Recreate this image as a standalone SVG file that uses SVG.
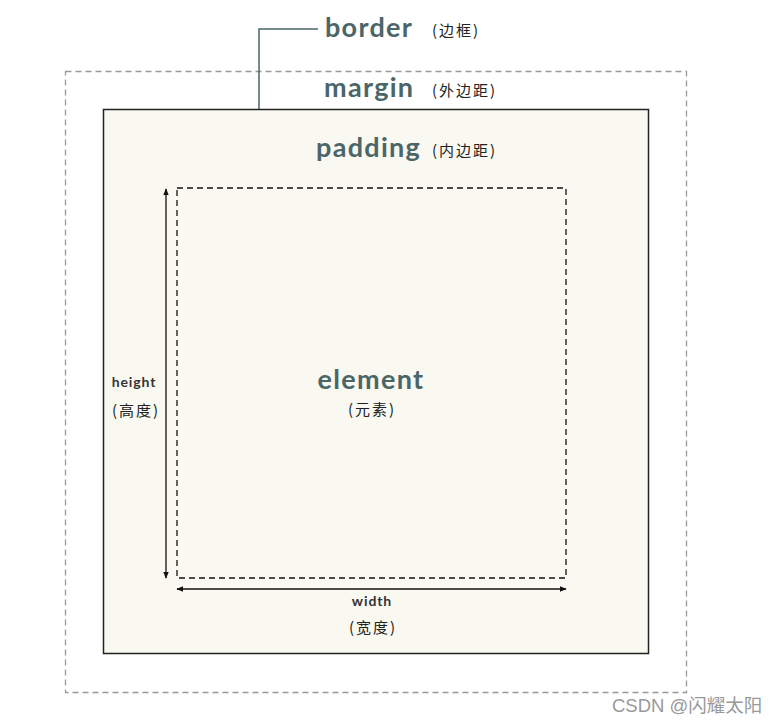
<svg xmlns="http://www.w3.org/2000/svg" width="777" height="722" viewBox="0 0 777 722">
<style>
.big{font-family:Lato,"Noto Sans",sans-serif;font-weight:bold;font-size:27px;letter-spacing:1.3px;fill:#4b6668}
.cn{font-family:"Noto Sans CJK SC",sans-serif;font-size:15px;letter-spacing:2px;fill:#222}
.sm{font-family:Lato,"Noto Sans",sans-serif;font-weight:bold;font-size:14px;letter-spacing:0.9px;fill:#333}
.ln{stroke:#111;stroke-width:1.3;fill:none}
</style>
<defs>
<marker id="ah" viewBox="0 0 10 10" refX="9" refY="5" markerWidth="7" markerHeight="7" orient="auto-start-reverse" markerUnits="userSpaceOnUse">
<path d="M0,1 L10,5 L0,9 z" fill="#111"/>
</marker>
</defs>
<rect width="777" height="722" fill="#fff"/>
<g id="margin">
<rect x="65.5" y="71.5" width="621" height="621" fill="none" stroke="#999" stroke-width="1.3" stroke-dasharray="6,4"/>
<text class="big" x="324" y="97">margin</text>
<text class="cn" x="432" y="96">(外边距)</text>
</g>
<g id="border">
<rect x="103.5" y="109.5" width="545" height="544" fill="#f9f8f1" stroke="#222" stroke-width="1.5"/>
<text class="big" x="325" y="37">border</text>
<text class="cn" x="432" y="36">(边框)</text>
</g>
<g id="padding">
<text class="big" x="316" y="157">padding</text>
<text class="cn" x="432" y="156">(内边距)</text>
</g>
<g id="element">
<rect x="177" y="188" width="389" height="390" fill="none" stroke="#111" stroke-width="1.3" stroke-dasharray="6,4"/>
<text class="big" x="371" y="389" text-anchor="middle">element</text>
<text class="cn" x="372" y="415" text-anchor="middle">(元素)</text>
</g>
<g id="height">
<text class="sm" x="134" y="387" text-anchor="middle">height</text>
<text class="cn" x="136" y="416" text-anchor="middle">(高度)</text>
</g>
<g id="width">
<text class="sm" x="372" y="606" text-anchor="middle">width</text>
<text class="cn" x="373" y="633" text-anchor="middle">(宽度)</text>
</g>
<g id="connectors">
<polyline points="259,109 259,29 318,29" fill="none" stroke="#4b6668" stroke-width="1.5"/>
<line class="ln" x1="166" y1="189" x2="166" y2="578" marker-start="url(#ah)" marker-end="url(#ah)"/>
<line class="ln" x1="177" y1="589" x2="566" y2="589" marker-start="url(#ah)" marker-end="url(#ah)"/>
</g>
<text x="612" y="712" font-family="'Liberation Sans','Noto Sans CJK SC',sans-serif" font-size="18.5" fill="#999">CSDN @闪耀太阳</text>
</svg>
